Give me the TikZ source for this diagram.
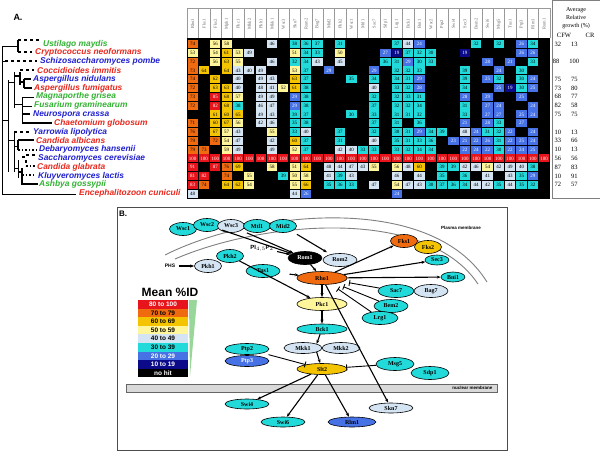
\documentclass[tikz,border=0pt]{standalone}
\usepackage{fontspec}
\setmainfont{Liberation Serif}
\setsansfont{Liberation Sans}
\usetikzlibrary{shapes.geometric,arrows.meta}

\definecolor{idred}{HTML}{E8141B}
\definecolor{idorange}{HTML}{F06A10}
\definecolor{idgold}{HTML}{F5C400}
\definecolor{idyellow}{HTML}{FFF59A}
\definecolor{idlight}{HTML}{D4E4F2}
\definecolor{idcyan}{HTML}{22DADA}
\definecolor{idblue}{HTML}{4672E6}
\definecolor{idnavy}{HTML}{0B0B8A}
\definecolor{spgreen}{HTML}{33B233}
\definecolor{spred}{HTML}{E8281E}
\definecolor{spblue}{HTML}{2020D0}

\newcommand{\pickcol}[1]{%
  \ifnum#1>79 \def\cf{idred}\def\ct{white}\else
  \ifnum#1>69 \def\cf{idorange}\def\ct{black}\else
  \ifnum#1>59 \def\cf{idgold}\def\ct{black}\else
  \ifnum#1>49 \def\cf{idyellow}\def\ct{black}\else
  \ifnum#1>39 \def\cf{idlight}\def\ct{black}\else
  \ifnum#1>29 \def\cf{idcyan}\def\ct{black}\else
  \ifnum#1>19 \def\cf{idblue}\def\ct{white}\else
  \def\cf{idnavy}\def\ct{white}\fi\fi\fi\fi\fi\fi\fi}

\begin{document}
\begin{tikzpicture}[x=1pt,y=-1pt,
    cell/.style={rectangle, minimum width=10.2pt, minimum height=8pt, inner sep=0pt, font=\fontsize{5}{5}\selectfont},
    species/.style={anchor=west, inner sep=0pt, font=\sffamily\bfseries\itshape\fontsize{8.4}{9}\selectfont},
    prot/.style={ellipse, draw=black, line width=0.6pt, minimum width=27pt, minimum height=13pt, inner sep=0pt, fill=idcyan, font=\bfseries\fontsize{6}{6}\selectfont},
    lprot/.style={prot, minimum width=50pt},
    arr/.style={-{Stealth[length=4pt]}, line width=1.1pt},
    inhib/.style={-{Bar[width=6pt]}, line width=0.9pt},
    tree/.style={line width=0.5pt},
    ttree/.style={line width=1.6pt},
    legrow/.style={rectangle, minimum width=50pt, minimum height=8.6pt, inner sep=0pt, font=\sffamily\bfseries\fontsize{6.5}{6.5}\selectfont}
  ]
  \useasboundingbox (0,0) rectangle (600,451);
  \fill[white] (0,0) rectangle (600,451);

  % Panel A: labels and tree
  \node[font=\sffamily\bfseries\fontsize{9}{9}\selectfont] (labA) at (18,17) {A.};
  \foreach \i/\nm/\cl/\xx in {1/Ustilago maydis/spgreen/43, 2/Cryptococcus neoformans/spred/35,
      3/Schizosaccharomyces pombe/spblue/40, 4/Coccidioides immitis/spred/37,
      5/Aspergillus nidulans/spblue/33, 6/Aspergillus fumigatus/spred/34,
      7/Magnaporthe grisea/spgreen/36, 8/Fusarium graminearum/spgreen/34,
      9/Neurospora crassa/spblue/33, 10/Chaetomium globosum/spred/54,
      11/Yarrowia lipolytica/spblue/33, 12/Candida albicans/spred/36,
      13/Debaryomyces hansenii/spblue/39, 14/Saccharomyces cerevisiae/spblue/38,
      15/Candida glabrata/spred/37, 16/Kluyveromyces lactis/spblue/38,
      17/Ashbya gossypii/spgreen/39, 18/Encephalitozoon cuniculi/spred/79}
    \node[species, text=\cl] (sp\i) at (\xx, {44+(\i-1)*8.8}) {\nm};

  % tree
  \draw[tree] (2,46) -- (2,194) -- (76,194);
  \draw[ttree] (18,40) -- (18,52);
  \draw[ttree, dashed] (18,40) -- (40,40);
  \draw[ttree, dashed] (18,52) -- (32,52);
  \draw[tree] (2,46) -- (18,46);
  \draw[ttree, dashed] (5,61) -- (37,61);
  \draw[tree] (2,61) -- (5,61);
  \draw[tree] (8,80) -- (8,172) (2,120) -- (8,120);
  \draw[tree] (8,82) -- (14,82) (14,72) -- (14,108);
  \draw[ttree] (20,72) -- (20,85) (14,76) -- (20,76);
  \draw[ttree, dashed] (20,70) -- (34,70);
  \draw[ttree] (20,82) -- (24,82) (24,79) -- (24,88) (24,79) -- (31,79) (24,88) -- (32,88);
  \draw[tree] (14,104) -- (22,104) (22,97) -- (22,123);
  \draw[tree] (22,97) -- (34,97) (22,106) -- (32,106);
  \draw[ttree] (22,114) -- (30,114) (22,123) -- (52,123);
  \draw[tree] (8,140) -- (14,140) (14,132) -- (14,172);
  \draw[ttree, dashed] (14,132) -- (30,132);
  \draw[tree] (14,146) -- (18,146);
  \draw[ttree] (18,140) -- (18,150) (18,140) -- (34,140);
  \draw[ttree, dotted] (18,150) -- (37,150);
  \draw[tree] (14,168) -- (18,168) (18,160) -- (18,178);
  \draw[ttree, dashed] (22,157) -- (26,157) (26,155) -- (36,155) (26,160) -- (26,166);
  \draw[ttree, dotted] (26,166) -- (35,166) (22,175) -- (36,175);
  \draw[ttree] (18,172) -- (22,172) (22,168) -- (22,184) -- (38,184);

  % heat map header
  \foreach \c/\nm in {1/Rho1,2/Fks1,3/Fks2,4/Mpk1/Slt2,5/Pkc1,6/Mkk2,7/Pkh1,8/Mkk1,9/Wsc3,10/Skn7,
      11/Rom2,12/Bag7,13/Mid2,14/Pkh2,15/Wsc1,16/Mtl1,17/Sac7,18/Sdp1,19/Lrg1,20/Bck1,21/Bni1,
      22/Wsc2,23/Ptp2,24/Swi4,25/Sec3,26/Bem2,27/Swi6,28/Msg5,29/Tus1,30/Ptp3,31/Rlm1,32/Rom1} {
    \node[rotate=90, font=\fontsize{4.5}{4.5}\selectfont, text=black!60] (hd\c) at ({187+11.34*(\c-0.5)}, 24) {\nm};
    \draw[black!40, line width=0.3pt] ({187+11.34*\c}, 8) -- ({187+11.34*\c}, 38);
  }
  \draw[black!40, line width=0.3pt] (187,8) -- (187,38) (187,8) -- (550,8);
  \fill[black] (187,38) rectangle (550,199);

  % heat map cells
  \foreach \r/\vals in {
      1/{1/74,3/56,4/58,8/46,10/38,11/36,12/37,14/31,19/37,20/44,21/24,26/32,28/32,30/26,31/34},
      2/{1/53,3/54,4/61,5/53,6/49,10/51,11/34,12/33,14/50,18/27,19/19,20/37,21/32,22/30,25/19,30/26,31/26},
      3/{1/72,3/56,4/63,5/55,8/46,10/32,11/34,12/43,14/45,18/36,19/31,20/29,21/30,22/33,27/28,29/21,31/33},
      4/{1/73,2/64,4/64,5/43,6/40,7/49,10/53,11/37,13/29,17/29,19/32,20/32,21/33,25/39,28/24,30/30},
      5/{1/74,3/62,5/40,7/49,8/43,10/63,11/37,15/35,17/34,19/34,20/31,21/29,25/39,27/25,28/32,30/30,31/24},
      6/{1/72,3/63,4/63,5/40,7/48,8/41,9/52,10/61,11/38,17/40,19/33,20/32,21/28,25/34,28/25,29/19,30/30,31/25},
      7/{1/73,3/85,4/68,5/57,7/49,8/49,10/29,11/38,17/32,19/32,20/33,21/31,25/28,27/29,30/25},
      8/{1/72,3/82,4/68,5/38,7/46,8/47,10/29,11/38,17/37,19/32,20/32,21/34,25/31,27/27,28/24,31/24},
      9/{3/61,4/60,5/65,7/49,8/43,10/39,11/37,15/30,17/33,19/31,20/31,21/32,25/33,27/27,28/27,30/25,31/24},
      10/{1/71,3/60,4/67,5/56,7/42,8/46,10/35,11/38,17/37,19/31,21/36,25/21,27/28,28/33,30/27},
      11/{1/76,3/67,4/57,5/43,8/55,10/33,11/40,14/37,17/32,19/30,20/31,21/29,22/34,23/39,25/48,26/24,27/31,28/32,29/22,31/24},
      12/{1/79,3/72,4/54,5/47,8/42,10/60,11/37,14/31,17/40,19/35,20/31,21/33,22/36,24/23,25/21,26/22,27/26,28/31,29/22,30/25,31/24},
      13/{1/79,2/73,4/59,5/49,8/49,10/52,11/37,14/42,15/40,16/33,17/33,19/33,20/32,21/34,22/34,25/22,26/24,27/22,28/30,29/22,30/24,31/25},
      15/{1/91,3/87,4/76,5/69,8/58,10/51,11/64,13/48,14/44,15/47,16/43,17/55,19/56,20/48,21/60,23/39,24/39,25/42,26/46,27/54,28/42,29/49,30/40,31/38},
      16/{1/81,2/82,4/74,6/55,9/39,10/50,11/58,13/41,14/39,15/43,19/46,21/44,23/35,25/36,27/41,29/43,30/35,31/29},
      17/{1/83,2/74,4/64,5/62,6/54,10/55,11/66,13/35,14/36,15/33,17/47,19/54,20/47,21/43,22/30,23/37,24/36,25/34,26/44,27/42,28/35,29/44,30/35,31/32},
      18/{1/48,10/44,11/26,19/24}} {
    \foreach \c/\v in \vals {
      \pickcol{\v}
      \node[cell, fill=\cf, text=\ct] (c\r-\c) at ({187+11.34*(\c-0.5)}, {44+(\r-1)*8.8}) {\v};
    }
  }
  \foreach \c in {1,...,32}
    \node[cell, fill=idred, text=white] (c14-\c) at ({187+11.34*(\c-0.5)}, {44+13*8.8}) {100};

  % growth table
  \draw[black!50, line width=0.4pt] (552,0) rectangle (600,198);
  \node[align=center, font=\fontsize{6}{8}\selectfont] (avg) at (576,18) {Average\\Relative\\growth (\%)};
  \node[font=\fontsize{6.5}{6.5}\selectfont] (cfw) at (564,35) {CFW};
  \node[font=\fontsize{6.5}{6.5}\selectfont] (cr) at (590,35) {CR};
  \foreach \r/\a/\b in {1/32/13,3/88/100,5/75/75,6/73/80,7/68/77,8/82/58,9/75/75,11/10/13,
      12/33/66,13/10/13,14/56/56,15/87/83,16/10/91,17/72/57}
    \node[font=\fontsize{6.5}{6.5}\selectfont] (g\r) at (566, {44+(\r-1)*8.8}) {\a\hspace{10pt}\b};

  % Panel B
  \draw[black!70, line width=0.6pt] (117,207) rectangle (507,450);
  \node[font=\sffamily\bfseries\fontsize{8}{8}\selectfont] (labB) at (123,214) {B.};
  \draw[black!50, line width=0.9pt] (165,255) .. controls (250,212) and (430,190) .. (487,282);
  \draw[black!50, line width=0.9pt] (175,259) .. controls (260,222) and (425,205) .. (478,284);
  \node[font=\sffamily\bfseries\fontsize{4.5}{4.5}\selectfont] (pm) at (461,228) {Plasma membrane};
  \draw[black!60, fill=black!15, line width=0.5pt] (126,384) rectangle (497,392);
  \node[anchor=east, font=\sffamily\bfseries\fontsize{4.5}{4.5}\selectfont] (nm) at (496,388) {nuclear membrane};

  \node[prot] (wsc1) at (183,229) {Wsc1};
  \node[prot] (wsc2) at (207,225) {Wsc2};
  \node[prot, fill=idlight] (wsc3) at (231,226) {Wsc3};
  \node[prot] (mtl1) at (257,226) {Mtl1};
  \node[prot] (mid2) at (283,226) {Mid2};
  \node[prot, fill=black, text=white, minimum width=34pt] (rom1) at (305,258) {Rom1};
  \node[prot, fill=idlight, minimum width=34pt] (rom2) at (340,260) {Rom2};
  \node[prot, fill=idorange] (fks1) at (404,241) {Fks1};
  \node[prot, fill=idgold] (fks2) at (428,247) {Fks2};
  \node[prot, minimum width=24pt, minimum height=10pt] (sec3) at (437,260) {Sec3};
  \node[prot, minimum width=24pt, minimum height=10pt] (bni1) at (453,277) {Bni1};
  \node[font=\sffamily\bfseries\fontsize{6}{6}\selectfont] (pip2) at (262,248) {PI$_{4,5}$P$_2$};
  \node[font=\sffamily\bfseries\fontsize{5}{5}\selectfont] (phs) at (170,266) {PHS};
  \node[prot, fill=idlight] (pkh1) at (208,266) {Pkh1};
  \node[prot] (pkh2) at (230,256) {Pkh2};
  \node[prot, minimum width=34pt] (tus1) at (263,271) {Tus1};
  \node[lprot, fill=idorange] (rho1) at (322,278) {Rho1};
  \node[prot, minimum width=36pt] (sac7) at (396,291) {Sac7};
  \node[prot, fill=idlight, minimum width=34pt] (bag7) at (431,291) {Bag7};
  \node[prot, minimum width=34pt] (bem2) at (391,306) {Bem2};
  \node[prot, minimum width=36pt] (lrg1) at (380,318) {Lrg1};
  \node[lprot, fill=idyellow] (pkc1) at (322,304) {Pkc1};
  \node[lprot, minimum height=10pt] (bck1) at (322,329) {Bck1};
  \node[prot, fill=idlight, minimum width=38pt, minimum height=11pt] (mkk1) at (303,348) {Mkk1};
  \node[prot, fill=idlight, minimum width=38pt, minimum height=11pt] (mkk2) at (341,348) {Mkk2};
  \node[prot, minimum width=44pt, minimum height=11pt] (ptp2) at (247,349) {Ptp2};
  \node[prot, fill=idblue, text=white, minimum width=44pt, minimum height=11pt] (ptp3) at (247,361) {Ptp3};
  \node[lprot, fill=idgold, minimum height=11pt] (slt2) at (322,369) {Slt2};
  \node[prot, minimum width=38pt] (msg5) at (395,364) {Msg5};
  \node[prot, minimum width=38pt] (sdp1) at (430,373) {Sdp1};
  \node[prot, minimum width=44pt, minimum height=10pt] (swi4) at (247,404) {Swi4};
  \node[prot, fill=idlight, minimum width=44pt, minimum height=10pt] (skn7) at (391,408) {Skn7};
  \node[prot, minimum width=44pt, minimum height=10pt] (swi6) at (283,422) {Swi6};
  \node[prot, fill=idblue, minimum width=48pt, minimum height=10pt] (rlm1) at (352,422) {Rlm1};

  % Mean %ID legend
  \node[font=\sffamily\bfseries\fontsize{12}{12}\selectfont] (legt) at (170,292) {Mean \%ID};
  \foreach \k/\txt/\v in {0/80 to 100/90,1/70 to 79/75,2/60 to 69/65,3/50 to 59/55,4/40 to 49/45,
      5/30 to 39/35,6/20 to 29/25,7/10 to 19/15} {
    \pickcol{\v}
    \node[legrow, fill=\cf, text=\ct] (leg\k) at (163, {304.3+\k*8.6}) {\txt};
  }
  \node[legrow, fill=black, text=white] (leg8) at (163, {304.3+8*8.6}) {no hit};
  \fill[green!60!black!40] (189,300) -- (197,300) -- (190,376) -- cycle;

  % connectors
  \draw[arr, shorten <=4pt] (wsc2) -- (rom1);
  \draw[arr, shorten <=6pt] (wsc3) -- (rom1);
  \draw[arr, shorten <=6pt, shorten >=4pt] (mid2) -- (rom2);
  \draw[arr] (pip2) -- (rom1);
  \draw[arr] (phs) -- (pkh1);
  \draw[arr] (pkh2) -- (pkc1);
  \draw[arr] (rom1) -- (rho1);
  \draw[arr, shorten <=10pt] (tus1) -- (rho1);
  \draw[arr] (rho1) -- (fks1);
  \draw[arr] (rho1) -- (sec3);
  \draw[arr] (rho1) -- (bni1);
  \draw[arr] (rho1) -- (pkc1);
  \draw[arr] (rho1) -- (skn7);
  \draw[inhib, shorten >=6pt] (sac7) -- (rho1);
  \draw[inhib, shorten >=8pt] (bem2) -- (rho1);
  \draw[inhib, shorten >=8pt] (lrg1) -- (rho1);
  \draw[arr] (pkc1) -- (bck1);
  \draw[arr] (bck1) -- (mkk1.north east);
  \draw[arr] (mkk1.south east) -- (slt2);
  \draw[inhib, shorten <=6pt] (ptp2.south east) -- (slt2);
  \draw[inhib] (msg5) -- (slt2);
  \draw[arr] (slt2) -- (swi4);
  \draw[arr] (slt2) -- (swi6);
  \draw[arr] (slt2) -- (rlm1);
\end{tikzpicture}
\end{document}
